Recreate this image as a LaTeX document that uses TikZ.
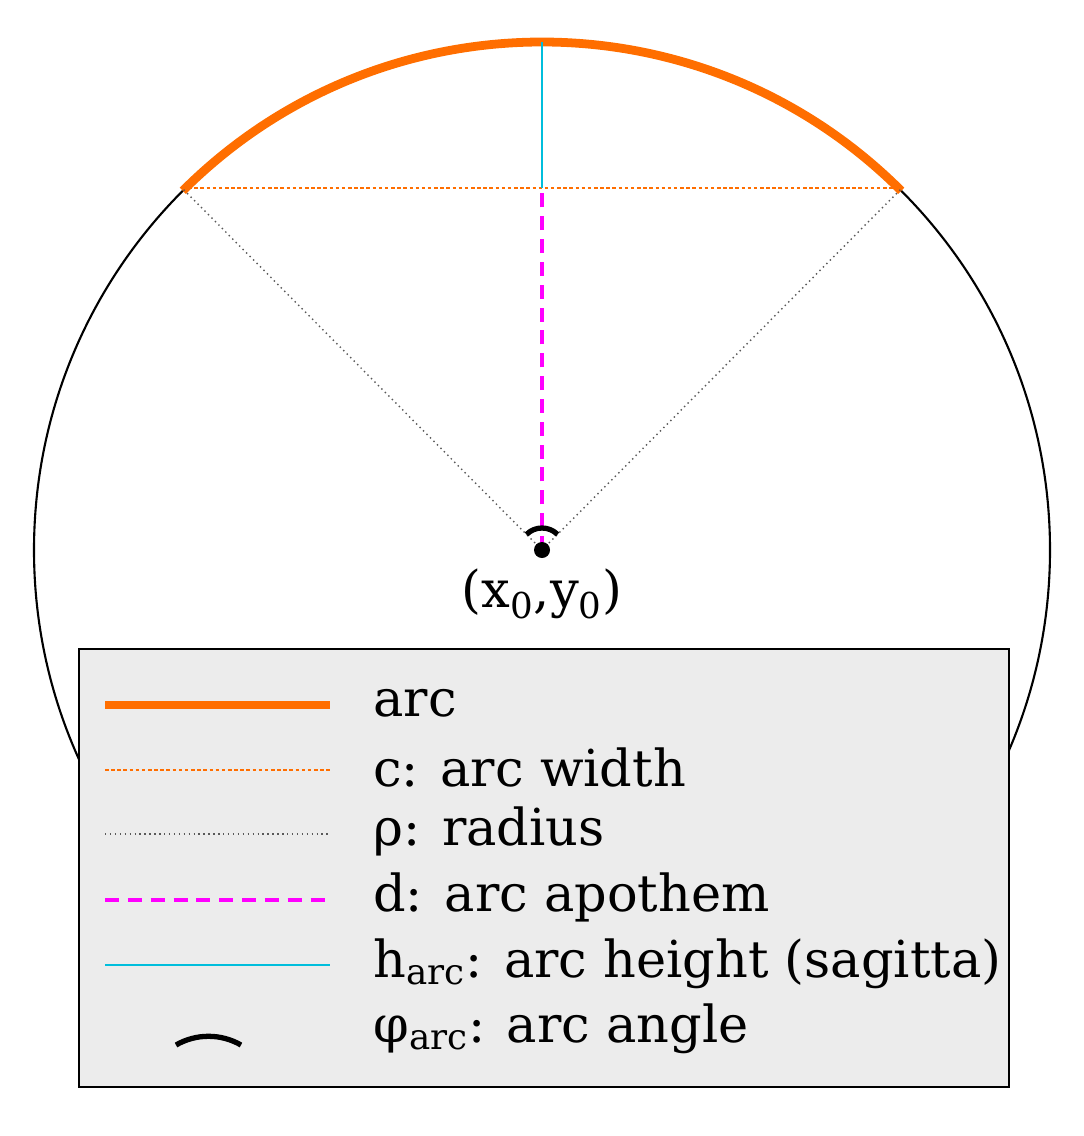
\documentclass[tikz,border=0pt]{standalone}
\usepackage{fontspec}
\setmainfont{DejaVu Serif}
\definecolor{mag}{RGB}{255,0,255}
\definecolor{cy}{RGB}{0,190,220}
\definecolor{org}{RGB}{255,110,0}
\begin{document}
\begin{tikzpicture}[x=0.02cm,y=-0.02cm,
  arcl/.style={line width=5pt,color=org},
  chordl/.style={line width=1.5pt,dash pattern=on 2pt off 1.5pt,color=org},
  radl/.style={line width=0.8pt,dotted,color=gray!70!black},
  apol/.style={line width=2pt,dash pattern=on 8pt off 5pt,color=mag},
  sagl/.style={line width=1.2pt,color=cy},
  angl/.style={line width=3pt},
  lbl/.style={anchor=west,font=\fontsize{29}{34}\selectfont,inner sep=0pt}]
\useasboundingbox (0,0) rectangle (1083,1136);
\coordinate (O) at (542,550);
\coordinate (A) at (182,188);
\coordinate (B) at (902,188);
\coordinate (M) at (542,188);
\coordinate (T) at (542,42);
\draw[line width=1.2pt] (O) circle (508);
\draw[arcl] (O) ++(225:508) arc[start angle=225,end angle=315,radius=508];
\draw[chordl] (A) -- (B);
\draw[radl] (O) -- (A) (O) -- (B);
\draw[apol] (O) -- (M);
\draw[sagl] (M) -- (T);
\draw[angl] (O) ++(225:22) arc[start angle=225,end angle=315,radius=22];
\fill (O) circle (8);
\node[font=\fontsize{29}{34}\selectfont] (lab) at (542,594) {(x\textsubscript{0},y\textsubscript{0})};
\node[draw,line width=1.2pt,fill=gray!15,minimum width=930*0.02cm,minimum height=438*0.02cm,anchor=north west,inner sep=0pt] (box) at (78,648) {};
\draw[arcl] (105,705) -- (330,705);
\draw[chordl] (105,770) -- (330,770);
\draw[radl] (105,834) -- (330,834);
\draw[apol] (105,900) -- (330,900);
\draw[sagl] (105,965) -- (330,965);
\draw[angl] (176,1045) arc[start angle=240,end angle=300,radius=65];
\node[lbl] (t1) at (373,703) {arc};
\node[lbl] (t2) at (373,767) {c: arc width};
\node[lbl] (t3) at (373,831) {ρ: radius};
\node[lbl] (t4) at (373,897) {d: arc apothem};
\node[lbl] (t5) at (373,964) {h\textsubscript{arc}: arc height (sagitta)};
\node[lbl] (t6) at (373,1029) {φ\textsubscript{arc}: arc angle};
\end{tikzpicture}
\end{document}
